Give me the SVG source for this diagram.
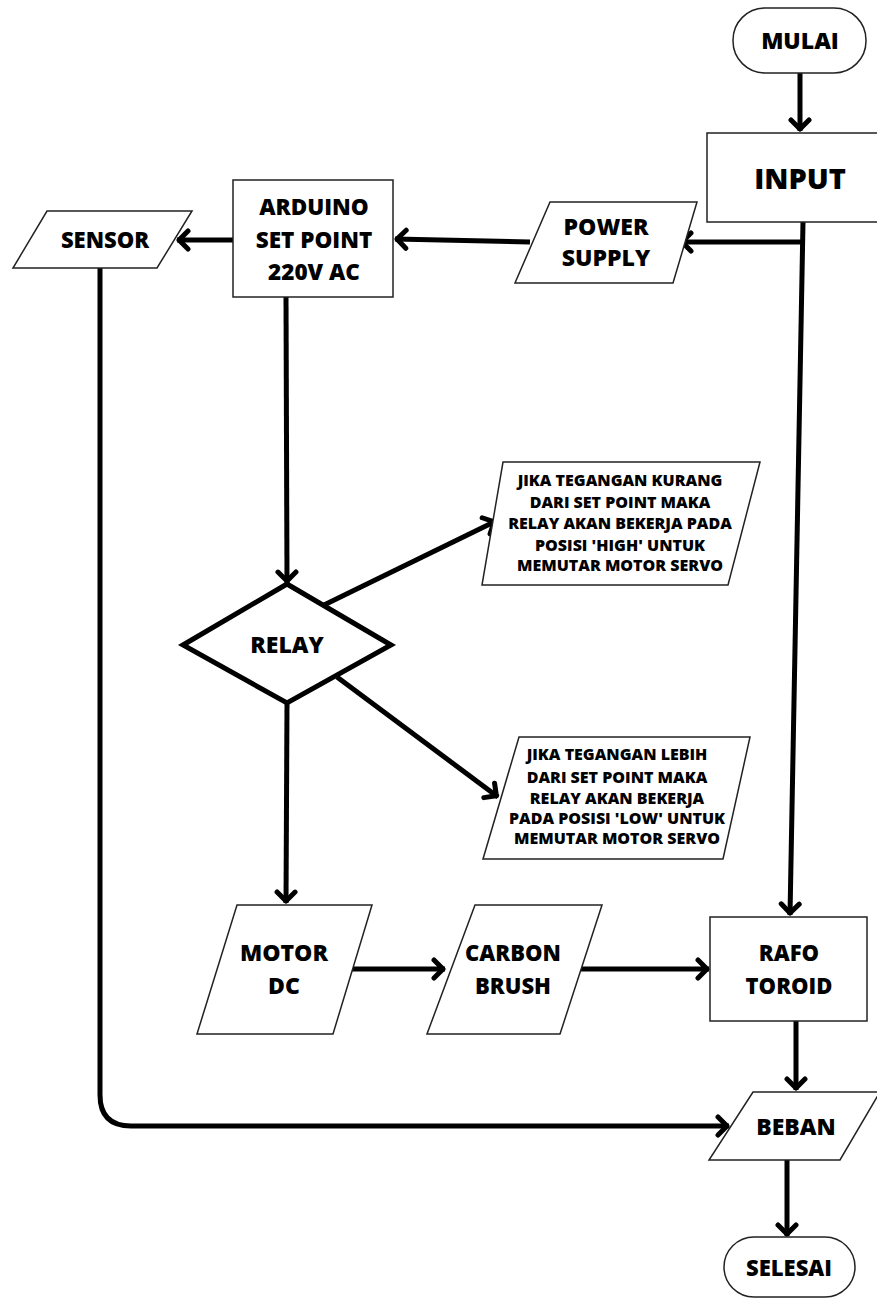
<svg xmlns="http://www.w3.org/2000/svg" width="877" height="1299" viewBox="0 0 877 1299">
<style>
.n{fill:#fff;stroke:#222;stroke-width:1.5}
.d{fill:#fff;stroke:#000;stroke-width:5;stroke-linejoin:miter}
.t{font-family:"Open Sans","DejaVu Sans",sans-serif;font-weight:800;fill:#000;text-anchor:middle}
.s{font-size:16px}
.c{fill:none;stroke:#000;stroke-width:5}
</style>
<defs>
<marker id="ah" viewBox="0 0 24 24" markerWidth="24" markerHeight="24" refX="14" refY="12" orient="auto" markerUnits="userSpaceOnUse">
<path d="M3,3 L12,12 L3,21" fill="none" stroke="#000" stroke-width="5" stroke-linecap="round" stroke-linejoin="round"/>
</marker>
</defs>
<rect width="877" height="1299" fill="#fff"/>
<g id="connectors">
<line class="c" x1="800" y1="73" x2="800" y2="131" marker-end="url(#ah)"/>
<line class="c" x1="803" y1="222" x2="790" y2="915" marker-end="url(#ah)"/>
<line class="c" x1="803" y1="242" x2="680" y2="242" marker-end="url(#ah)"/>
<line class="c" x1="530" y1="242" x2="395" y2="239" marker-end="url(#ah)"/>
<line class="c" x1="233" y1="240" x2="177" y2="240" marker-end="url(#ah)"/>
<line class="c" x1="286" y1="297" x2="287" y2="583" marker-end="url(#ah)"/>
<line class="c" x1="324" y1="605" x2="496" y2="521" marker-end="url(#ah)"/>
<line class="c" x1="337" y1="677" x2="498" y2="797" marker-end="url(#ah)"/>
<line class="c" x1="287" y1="703" x2="286" y2="903" marker-end="url(#ah)"/>
<line class="c" x1="350" y1="969" x2="445" y2="969" marker-end="url(#ah)"/>
<line class="c" x1="580" y1="969" x2="709" y2="969" marker-end="url(#ah)"/>
<line class="c" x1="796" y1="1021" x2="796" y2="1090" marker-end="url(#ah)"/>
<path class="c" d="M100,268 L100,1095 Q100,1126 131,1126 L729,1126" marker-end="url(#ah)"/>
<line class="c" x1="787" y1="1160" x2="787" y2="1236" marker-end="url(#ah)"/>
</g>
<g id="mulai">
<rect class="n" x="733" y="8" width="133" height="65" rx="32" ry="32"/>
<text class="t" x="800" y="49" font-size="23">MULAI</text>
</g>
<g id="input">
<rect class="n" x="707" y="133" width="180" height="89"/>
<text class="t" x="800" y="189" font-size="29">INPUT</text>
</g>
<g id="power-supply">
<polygon class="n" points="550,202 697,202 673,283 515,283"/>
<text class="t" x="606" y="235" font-size="23">POWER</text>
<text class="t" x="606" y="266" font-size="23">SUPPLY</text>
</g>
<g id="arduino">
<rect class="n" x="233" y="180" width="160" height="117"/>
<text class="t" x="314" y="215" font-size="22.5">ARDUINO</text>
<text class="t" x="314" y="248" font-size="22.5">SET POINT</text>
<text class="t" x="314" y="280" font-size="22.5">220V AC</text>
</g>
<g id="sensor">
<polygon class="n" points="47,211 192,211 157,268 13,268"/>
<text class="t" x="105" y="248" font-size="22">SENSOR</text>
</g>
<g id="relay">
<polygon class="d" points="183,645 287,584 391,645 287,703"/>
<text class="t" x="287" y="653" font-size="23">RELAY</text>
</g>
<g id="high-note">
<polygon class="n" points="503,462 760,462 728,585 482,585"/>
<text class="t s" x="620" y="486">JIKA TEGANGAN KURANG</text>
<text class="t s" x="620" y="508">DARI SET POINT MAKA</text>
<text class="t s" x="620" y="529">RELAY AKAN BEKERJA PADA</text>
<text class="t s" x="620" y="551">POSISI 'HIGH' UNTUK</text>
<text class="t s" x="620" y="571">MEMUTAR MOTOR SERVO</text>
</g>
<g id="low-note">
<polygon class="n" points="519,737 750,737 723,859 483,859"/>
<text class="t s" x="617" y="760">JIKA TEGANGAN LEBIH</text>
<text class="t s" x="617" y="783">DARI SET POINT MAKA</text>
<text class="t s" x="617" y="804">RELAY AKAN BEKERJA</text>
<text class="t s" x="617" y="824">PADA POSISI 'LOW' UNTUK</text>
<text class="t s" x="617" y="844">MEMUTAR MOTOR SERVO</text>
</g>
<g id="motor-dc">
<polygon class="n" points="237,905 372,905 333,1034 197,1034"/>
<text class="t" x="284" y="961" font-size="23">MOTOR</text>
<text class="t" x="284" y="994" font-size="23">DC</text>
</g>
<g id="carbon-brush">
<polygon class="n" points="475,905 602,905 560,1034 427,1034"/>
<text class="t" x="513" y="961" font-size="22">CARBON</text>
<text class="t" x="513" y="994" font-size="22">BRUSH</text>
</g>
<g id="rafo-toroid">
<rect class="n" x="710" y="917" width="157" height="104"/>
<text class="t" x="789" y="961" font-size="22">RAFO</text>
<text class="t" x="789" y="994" font-size="22">TOROID</text>
</g>
<g id="beban">
<polygon class="n" points="753,1092 880,1092 840,1160 709,1160"/>
<text class="t" x="796" y="1135" font-size="23">BEBAN</text>
</g>
<g id="selesai">
<rect class="n" x="724" y="1237" width="131" height="60" rx="30" ry="30"/>
<text class="t" x="789" y="1276" font-size="22">SELESAI</text>
</g>
</svg>
